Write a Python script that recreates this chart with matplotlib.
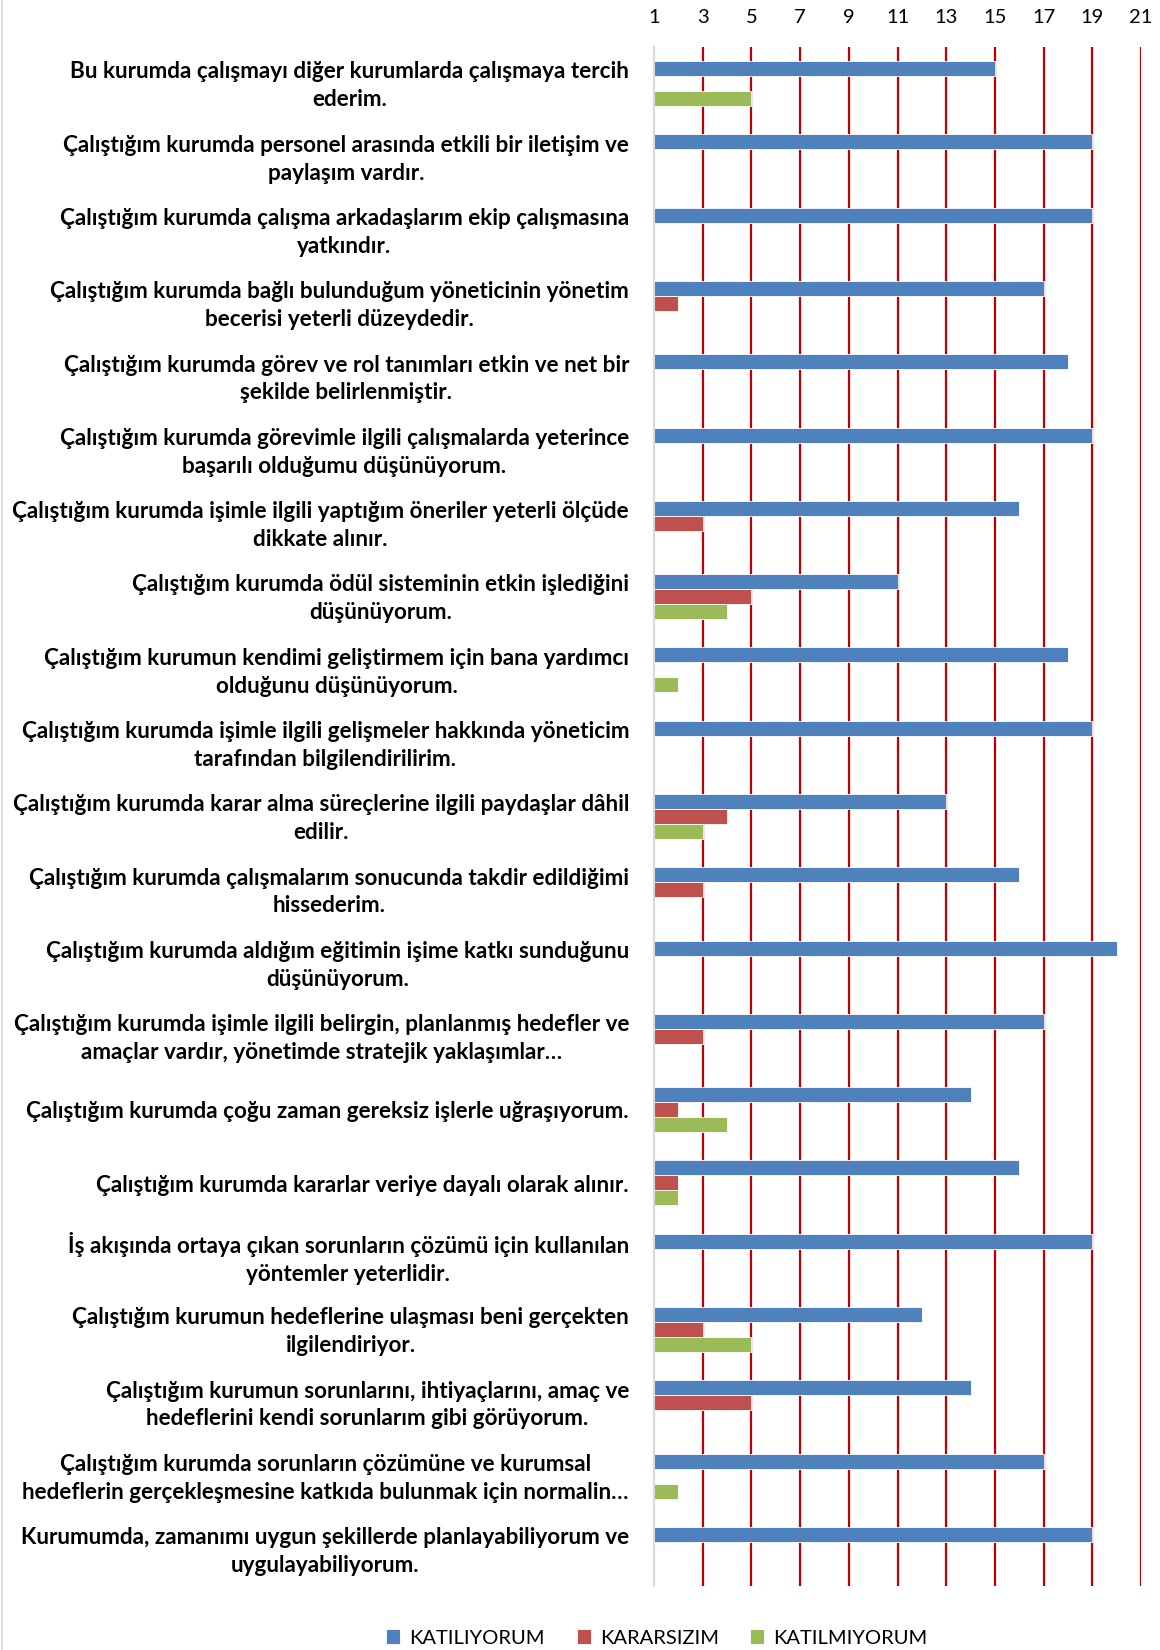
import numpy as np
import matplotlib
matplotlib.use("Agg")
import matplotlib.pyplot as plt
from matplotlib.lines import Line2D
from matplotlib.transforms import ScaledTranslation

plt.rcParams['font.family'] = ['Lato', 'DejaVu Sans']

categories = [
    "Bu kurumda çalışmayı diğer kurumlarda çalışmaya tercih\nederim.",
    "Çalıştığım kurumda personel arasında etkili bir iletişim ve\npaylaşım vardır.",
    "Çalıştığım kurumda çalışma arkadaşlarım ekip çalışmasına\nyatkındır.",
    "Çalıştığım kurumda bağlı bulunduğum yöneticinin yönetim\nbecerisi yeterli düzeydedir.",
    "Çalıştığım kurumda görev ve rol tanımları etkin ve net bir\nşekilde belirlenmiştir.",
    "Çalıştığım kurumda görevimle ilgili çalışmalarda yeterince\nbaşarılı olduğumu düşünüyorum.",
    "Çalıştığım kurumda işimle ilgili yaptığım öneriler yeterli ölçüde\ndikkate alınır.",
    "Çalıştığım kurumda ödül sisteminin etkin işlediğini\ndüşünüyorum.",
    "Çalıştığım kurumun kendimi geliştirmem için bana yardımcı\nolduğunu düşünüyorum.",
    "Çalıştığım kurumda işimle ilgili gelişmeler hakkında yöneticim\ntarafından bilgilendirilirim.",
    "Çalıştığım kurumda karar alma süreçlerine ilgili paydaşlar dâhil\nedilir.",
    "Çalıştığım kurumda çalışmalarım sonucunda takdir edildiğimi\nhissederim.",
    "Çalıştığım kurumda aldığım eğitimin işime katkı sunduğunu\ndüşünüyorum.",
    "Çalıştığım kurumda işimle ilgili belirgin, planlanmış hedefler ve\namaçlar vardır, yönetimde stratejik yaklaşımlar…",
    "Çalıştığım kurumda çoğu zaman gereksiz işlerle uğraşıyorum.",
    "Çalıştığım kurumda kararlar veriye dayalı olarak alınır.",
    "İş akışında ortaya çıkan sorunların çözümü için kullanılan\nyöntemler yeterlidir.",
    "Çalıştığım kurumun hedeflerine ulaşması beni gerçekten\nilgilendiriyor.",
    "Çalıştığım kurumun sorunlarını, ihtiyaçlarını, amaç ve\nhedeflerini kendi sorunlarım gibi görüyorum.",
    "Çalıştığım kurumda sorunların çözümüne ve kurumsal\nhedeflerin gerçekleşmesine katkıda bulunmak için normalin…",
    "Kurumumda, zamanımı uygun şekillerde planlayabiliyorum ve\nuygulayabiliyorum.",
]

katiliyorum = [15, 19, 19, 17, 18, 19, 16, 11, 18, 19, 13, 16, 20, 17, 14, 16, 19, 12, 14, 17, 19]
kararsizim  = [0, 0, 0, 2, 0, 0, 3, 5, 0, 0, 4, 3, 0, 3, 2, 2, 0, 3, 5, 0, 0]
katilmiyorum = [5, 0, 0, 0, 0, 0, 0, 4, 2, 0, 3, 0, 0, 0, 4, 2, 0, 5, 0, 2, 0]

series_names = ["KATILIYORUM", "KARARSIZIM", "KATILMIYORUM"]
colors = ["#4F81BD", "#C0504D", "#9BBB59"]
xticks = [1, 3, 5, 7, 9, 11, 13, 15, 17, 19, 21]

fig = plt.figure(figsize=(11.6, 16.5), dpi=100)
top_px, bot_px = 47, 1586
ax = fig.add_axes([654/1160, 1 - bot_px/1650, (1141-654)/1160, (bot_px-top_px)/1650])

y = np.arange(len(categories))
h = 0.205
handles = []
for i, (vals, name, c) in enumerate(zip([katiliyorum, kararsizim, katilmiyorum], series_names, colors)):
    bars = ax.barh(y + (i - 1) * h, vals, height=h, left=0, color=c,
                   edgecolor='white', linewidth=0.6, label=name, zorder=3)
    handles.append(bars)

ax.set_xlim(1, 21)
ax.set_ylim(len(categories) - 0.5, -0.5)
ax.set_xticks(xticks)
ax.set_xticklabels([str(t) for t in xticks])
ax.xaxis.tick_top()
ax.tick_params(axis='x', length=0, pad=15, labelsize=14.5, colors='black')
ax.tick_params(axis='y', length=0, pad=18)
ax.set_yticks(y)
ax.set_yticklabels(categories, fontsize=16.2, fontweight='bold',
                   multialignment='center', linespacing=1.4)
shift = ScaledTranslation(0, -1.6/72, fig.dpi_scale_trans)
for lbl in ax.get_yticklabels():
    lbl.set_verticalalignment('center')
    lbl.set_transform(lbl.get_transform() + shift)

for t in xticks[1:]:
    ax.axvline(t, color='#C00000', linewidth=1.6, zorder=1)

for s in ['top', 'right', 'bottom']:
    ax.spines[s].set_visible(False)
ax.spines['left'].set_color('#D9D9D9')
ax.spines['left'].set_linewidth(1.5)
ax.spines['left'].set_zorder(4)

fig.add_artist(Line2D([1.5/1160, 1.5/1160], [0, 1], color='#D9D9D9', linewidth=1.2))

fig.legend(handles=handles, labels=series_names, loc='center',
           bbox_to_anchor=(657/1160, 1 - 1638/1650), ncol=3, frameon=False,
           fontsize=14.5, handlelength=0.7, handleheight=0.7, handletextpad=0.45,
           columnspacing=1.57, borderpad=0)

fig.savefig("out.png", dpi=100, facecolor='white')
